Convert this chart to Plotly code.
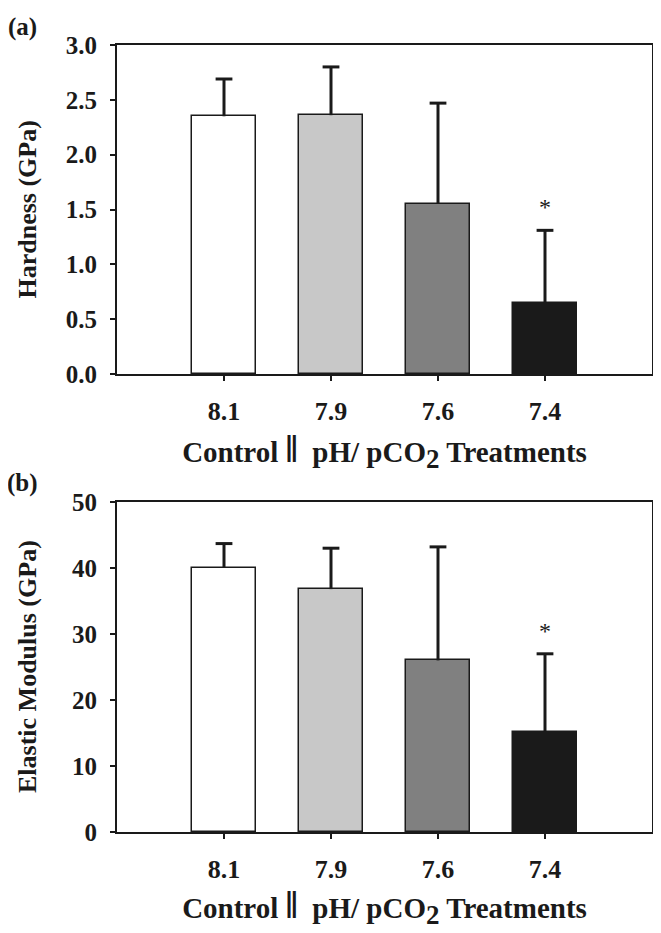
import plotly.graph_objects as go

categories = ["8.1", "7.9", "7.6", "7.4"]
colors = ["#ffffff", "#c8c8c8", "#808080", "#1a1a1a"]

hardness = [2.35, 2.36, 1.55, 0.65]
hardness_err = [0.34, 0.44, 0.92, 0.66]
hardness_star = [None, None, None, 1.52]

modulus = [40.0, 36.8, 26.0, 15.2]
modulus_err = [3.7, 6.2, 17.2, 11.8]
modulus_star = [None, None, None, 30.4]

x_title = ('Control <span style="font-size:38px">‖</span>  pH/ pCO'
           '<sub><span style="font-size:27px">2</span></sub> Treatments')

OFF = 8  # page body margin
W, H = 661 - OFF, 933 - OFF
FONT = "Liberation Serif, Times New Roman, serif"
INK = "#1a1a1a"

fig = go.Figure()

def px_x(p):
    return (p - OFF) / W

def px_y(p):
    return 1 - (p - OFF) / H

panels = [
    dict(vals=hardness, err=hardness_err, star=hardness_star, xa="x", ya="y",
         top=45, bot=374, rng=[0, 3.0], dtick=0.5, fmt=".1f",
         title="Hardness (GPa)", label="(a)", label_y=27, standoff=16),
    dict(vals=modulus, err=modulus_err, star=modulus_star, xa="x2", ya="y2",
         top=502, bot=832, rng=[0, 50], dtick=10, fmt="d",
         title="Elastic Modulus (GPa)", label="(b)", label_y=483, standoff=11),
]

xs = list(range(len(categories)))
annotations = []
for i, p in enumerate(panels):
    fig.add_trace(go.Bar(
        x=xs, y=p["vals"], xaxis=p["xa"], yaxis=p["ya"],
        width=0.6,
        marker=dict(color=colors, line=dict(color=INK, width=1.5)),
        error_y=dict(type="data", array=p["err"], arrayminus=[0] * len(xs),
                     symmetric=False, color=INK, thickness=3, width=0),
        showlegend=False, hoverinfo="skip",
    ))
    tops = [v + e for v, e in zip(p["vals"], p["err"])]
    fig.add_trace(go.Scatter(
        x=xs, y=tops, xaxis=p["xa"], yaxis=p["ya"], mode="markers",
        marker=dict(symbol="line-ew", size=12, line=dict(color=INK, width=3)),
        showlegend=False, hoverinfo="skip",
    ))
    for j, s in enumerate(p["star"]):
        if s is not None:
            annotations.append(dict(x=j, y=s, xref=p["xa"], yref=p["ya"], text="*",
                                    showarrow=False, xanchor="center", yanchor="middle",
                                    font=dict(family=FONT, size=24, color=INK)))
    sfx = "" if i == 0 else "2"
    axis_common = dict(showline=True, linewidth=2, linecolor=INK, mirror=True,
                       ticks="outside", ticklen=5, tickwidth=2, tickcolor=INK,
                       showgrid=False, zeroline=False, automargin=False)
    fig.layout["xaxis" + sfx] = dict(
        domain=[px_x(117), px_x(652)], anchor="y" + sfx, range=[-1, 4],
        tickmode="array", tickvals=xs, ticktext=categories,
        tickfont=dict(family=FONT, size=26, color=INK, weight="bold"),
        ticklabelstandoff=8,
        title=dict(text=x_title,
                   font=dict(family=FONT, size=29, color=INK, weight="bold"),
                   standoff=p["standoff"]),
        **axis_common)
    fig.layout["yaxis" + sfx] = dict(
        domain=[px_y(p["bot"]), px_y(p["top"])], anchor="x" + sfx, range=p["rng"],
        dtick=p["dtick"], tickformat=p["fmt"],
        tickfont=dict(family=FONT, size=25, color=INK, weight="bold"),
        ticklabelstandoff=8,
        **axis_common)
    annotations.append(dict(x=px_x(27), y=px_y((p["top"] + p["bot"]) / 2), xref="paper", yref="paper",
                            text=p["title"], textangle=-90, showarrow=False,
                            xanchor="center", yanchor="middle",
                            font=dict(family=FONT, size=26, color=INK, weight="bold")))
    annotations.append(dict(x=px_x(22), y=px_y(p["label_y"]), xref="paper", yref="paper",
                            text=p["label"], showarrow=False,
                            xanchor="center", yanchor="middle",
                            font=dict(family=FONT, size=25, color=INK, weight="bold")))

fig.update_layout(width=W, height=H, margin=dict(l=0, r=0, t=0, b=0),
                  plot_bgcolor="white", paper_bgcolor="white",
                  annotations=annotations, bargap=0)

fig.write_html("out.html")
